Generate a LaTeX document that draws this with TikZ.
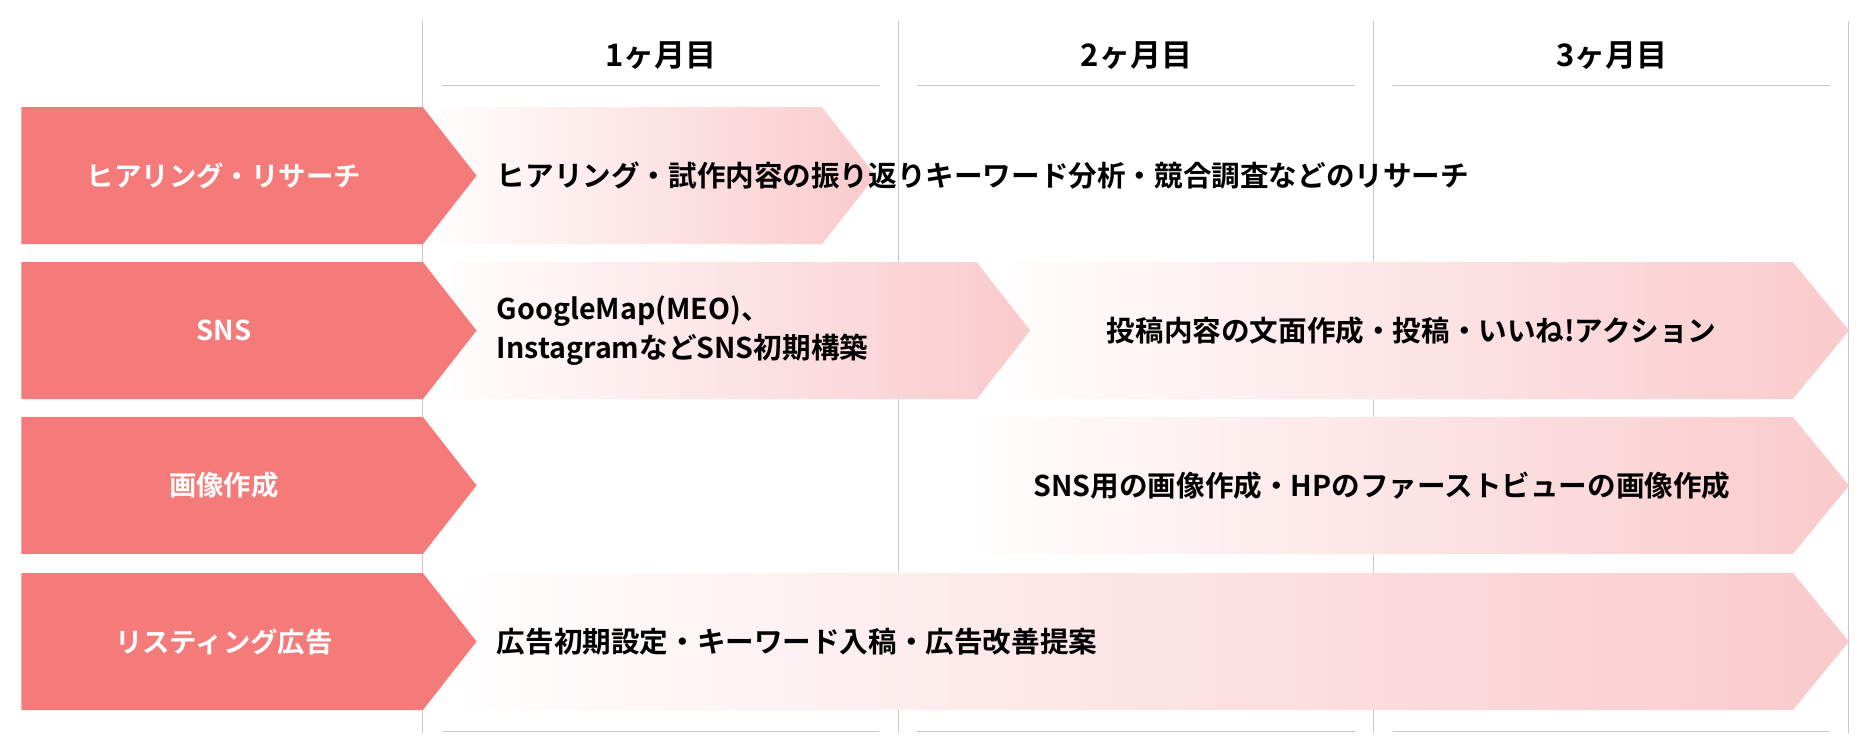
\documentclass[tikz,border=0pt]{standalone}
\usepackage{fontspec}
\setmainfont{Noto Sans CJK JP}[BoldFont={Noto Sans CJK JP Bold}]
\definecolor{labelred}{HTML}{F47B79}
\definecolor{barpink}{HTML}{FACACC}
\definecolor{gridgray}{HTML}{C8C8C8}
\tikzset{
  rowlabel/.style={text=white, font=\bfseries\fontsize{11.5pt}{13pt}\selectfont},
  bartext/.style={text=black, font=\bfseries\fontsize{12pt}{16pt}\selectfont, align=left},
  monthtext/.style={text=black, font=\bfseries\fontsize{13pt}{15pt}\selectfont},
  barshade/.style={left color=white, right color=barpink},
}
\begin{document}
\begin{tikzpicture}[x=0.5pt, y=-0.5pt]
\useasboundingbox (0,0) rectangle (1568,630);

% Grid
\foreach \x in {355,754,1153,1552}
  \draw[gridgray, thin] (\x,18) -- (\x,615);
\foreach \x/\m in {371/1,770/2,1169/3} {
  \draw[gridgray] (\x,72) -- ++(367,0);
  \draw[gridgray] (\x,614) -- ++(367,0);
  \node[monthtext] (month\m) at (\x+184,47) {\m ヶ月目};
}

% Bars
\shade[barshade] (355,90) -- (690,90) -- (735,147.5) -- (690,205) -- (355,205) -- (400,147.5) -- cycle;
\shade[barshade] (355,220) -- (820,220) -- (865,277.5) -- (820,335) -- (355,335) -- (400,277.5) -- cycle;
\shade[barshade] (820,220) -- (1505,220) -- (1552,277.5) -- (1505,335) -- (820,335) -- (865,277.5) -- cycle;
\shade[barshade] (798,350) -- (1505,350) -- (1552,407.5) -- (1505,465) -- (798,465) -- cycle;
\shade[barshade] (355,481) -- (1505,481) -- (1552,538.5) -- (1505,596) -- (355,596) -- (400,538.5) -- cycle;

% Row labels
\foreach \y in {90,220,350,481}
  \fill[labelred] (18,\y) -- (355,\y) -- (400,\y+57.5) -- (355,\y+115) -- (18,\y+115) -- cycle;
\node[rowlabel] (hearing) at (188,147.5) {ヒアリング・リサーチ};
\node[rowlabel] (sns) at (188,277.5) {SNS};
\node[rowlabel] (image) at (188,407.5) {画像作成};
\node[rowlabel] (listing) at (188,538.5) {リスティング広告};

% Bar texts
\node[bartext, anchor=west] (hearingtext) at (410,147.5) {ヒアリング・試作内容の振り返りキーワード分析・競合調査などのリサーチ};
\node[bartext, anchor=west] (snssetup) at (410,277.5) {GoogleMap(MEO)、\\InstagramなどSNS初期構築};
\node[bartext] (snspost) at (1185,277.5) {投稿内容の文面作成・投稿・いいね!アクション};
\node[bartext] (imagetext) at (1160,407.5) {SNS用の画像作成・HPのファーストビューの画像作成};
\node[bartext, anchor=west] (listingtext) at (410,538.5) {広告初期設定・キーワード入稿・広告改善提案};
\end{tikzpicture}
\end{document}
